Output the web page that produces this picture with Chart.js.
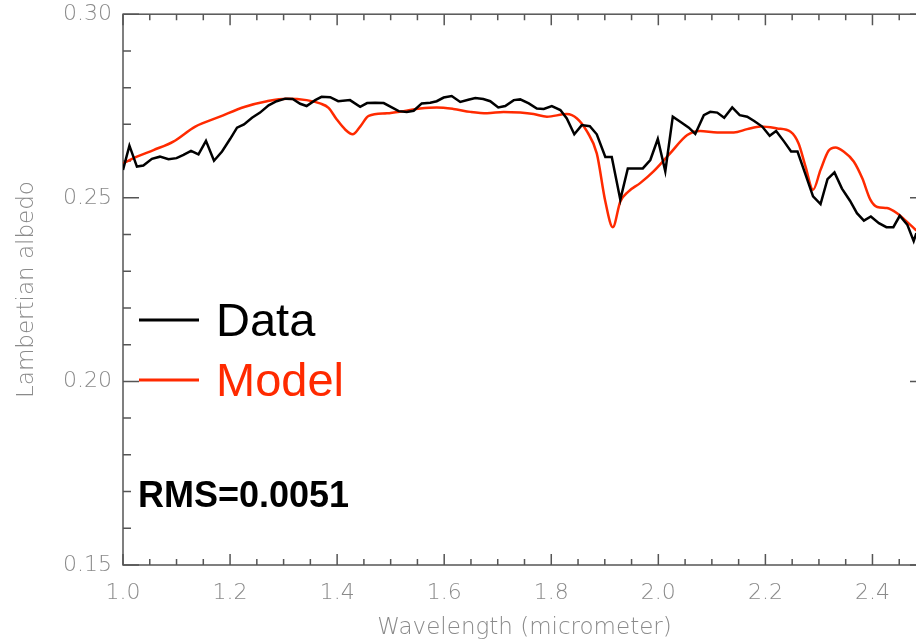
<!DOCTYPE html>
<html>
<head>
<meta charset="utf-8">
<script src="https://cdn.jsdelivr.net/npm/chart.js@4.4.1/dist/chart.umd.min.js"></script>
<style>
  html, body { margin: 0; padding: 0; background: #fff; overflow: hidden; }
  #wrap { width: 916px; height: 644px; overflow: hidden; }
  #box { width: 932px; height: 654px; margin-top: -10px; }
</style>
</head>
<body>
<div id="wrap"><div id="box"><canvas id="spectrum"></canvas></div></div>
<script>
// measured spectrum (black)
const dataWavelength = [1.000, 1.012, 1.026, 1.038, 1.054, 1.069, 1.085, 1.100, 1.113, 1.127,
  1.141, 1.155, 1.170, 1.185, 1.200, 1.213, 1.226, 1.241, 1.256, 1.272,
  1.287, 1.303, 1.317, 1.331, 1.343, 1.359, 1.371, 1.387, 1.402, 1.424,
  1.443, 1.456, 1.471, 1.487, 1.515, 1.530, 1.543, 1.558, 1.574, 1.586,
  1.599, 1.614, 1.630, 1.645, 1.658, 1.673, 1.686, 1.701, 1.714, 1.730,
  1.742, 1.758, 1.773, 1.786, 1.801, 1.817, 1.829, 1.843, 1.857, 1.872,
  1.885, 1.901, 1.913, 1.929, 1.943, 1.957, 1.971, 1.985, 1.999, 2.013,
  2.027, 2.041, 2.057, 2.069, 2.085, 2.097, 2.110, 2.123, 2.138, 2.152,
  2.166, 2.179, 2.194, 2.208, 2.220, 2.235, 2.248, 2.260, 2.275, 2.289,
  2.303, 2.316, 2.329, 2.343, 2.358, 2.371, 2.384, 2.397, 2.412, 2.426,
  2.439, 2.451, 2.465, 2.477, 2.482];
const dataAlbedo = [0.2576, 0.2642, 0.2585, 0.2588, 0.2606, 0.2612, 0.2605, 0.2608, 0.2617, 0.2628,
  0.2618, 0.2655, 0.2601, 0.2626, 0.2660, 0.2691, 0.2700, 0.2718, 0.2732, 0.2752,
  0.2763, 0.2770, 0.2769, 0.2756, 0.2750, 0.2766, 0.2775, 0.2774, 0.2763, 0.2766,
  0.2748, 0.2758, 0.2759, 0.2758, 0.2736, 0.2734, 0.2737, 0.2757, 0.2759, 0.2763,
  0.2773, 0.2777, 0.2761, 0.2767, 0.2772, 0.2769, 0.2763, 0.2746, 0.2750, 0.2766,
  0.2768, 0.2757, 0.2743, 0.2742, 0.2750, 0.2739, 0.2716, 0.2673, 0.2698, 0.2695,
  0.2673, 0.2611, 0.2611, 0.2495, 0.2580, 0.2580, 0.2580, 0.2603, 0.2660, 0.2572,
  0.2721, 0.2707, 0.2691, 0.2674, 0.2725, 0.2734, 0.2732, 0.2718, 0.2746, 0.2725,
  0.2721, 0.2709, 0.2694, 0.2669, 0.2682, 0.2653, 0.2626, 0.2626, 0.2563, 0.2504,
  0.2483, 0.2551, 0.2569, 0.2525, 0.2492, 0.2458, 0.2438, 0.2449, 0.2431, 0.2420,
  0.2420, 0.2451, 0.2427, 0.2382, 0.2404];

// model fit (red)
const modelWavelength = [1.000, 1.026, 1.057, 1.094, 1.135, 1.181, 1.228, 1.269, 1.306, 1.343,
  1.368, 1.384, 1.399, 1.415, 1.429, 1.443, 1.459, 1.493, 1.524, 1.555,
  1.586, 1.617, 1.649, 1.680, 1.711, 1.742, 1.767, 1.792, 1.829, 1.848,
  1.867, 1.885, 1.901, 1.915, 1.929, 1.944, 1.966, 1.991, 2.022, 2.054,
  2.078, 2.110, 2.141, 2.166, 2.191, 2.222, 2.247, 2.262, 2.275, 2.289,
  2.303, 2.318, 2.331, 2.346, 2.365, 2.381, 2.396, 2.409, 2.427, 2.446,
  2.462, 2.482];
const modelAlbedo = [0.2594, 0.2612, 0.2630, 0.2653, 0.2694, 0.2721, 0.2748, 0.2763, 0.2770, 0.2766,
  0.2757, 0.2745, 0.2714, 0.2686, 0.2673, 0.2694, 0.2723, 0.2730, 0.2736, 0.2743,
  0.2746, 0.2742, 0.2734, 0.2730, 0.2734, 0.2732, 0.2728, 0.2721, 0.2728, 0.2716,
  0.2680, 0.2621, 0.2490, 0.2420, 0.2490, 0.2517, 0.2540, 0.2572, 0.2621, 0.2671,
  0.2682, 0.2678, 0.2678, 0.2687, 0.2694, 0.2689, 0.2680, 0.2648, 0.2585, 0.2522,
  0.2576, 0.2628, 0.2637, 0.2626, 0.2599, 0.2553, 0.2495, 0.2475, 0.2472, 0.2458,
  0.2438, 0.2411];

const xTickValues = [1.0, 1.2, 1.4, 1.6, 1.8, 2.0, 2.2, 2.4];
const yTickValues = [0.15, 0.20, 0.25, 0.30];
const seriesLabels = ['Data', 'Model'];
const seriesColors = ['#000000', '#ff2a00'];
const rmsText = 'RMS=0.0051';

const grey = '#8a8a8a';
const axisColor = '#555555';

// the canvas is shifted up 10px by css, so fixed drawing positions add 10
const shiftY = 10;

// IDL style box with inward ticks, legend and RMS note
const idlFrame = {
  id: 'idlFrame',
  beforeDatasetsDraw(chart) {
    const { ctx, chartArea: a, scales: { x, y } } = chart;
    ctx.save();
    ctx.strokeStyle = axisColor;
    ctx.lineWidth = 1.5;
    ctx.strokeRect(a.left, a.top, a.right - a.left, a.bottom - a.top);
    ctx.beginPath();
    for (let i = 0; i <= 30; i++) {
      const px = x.getPixelForValue(1.0 + i * 0.05);
      const len = i % 4 === 0 ? 11 : 6;
      ctx.moveTo(px, a.bottom); ctx.lineTo(px, a.bottom - len);
      ctx.moveTo(px, a.top); ctx.lineTo(px, a.top + len);
    }
    for (let i = 0; i <= 15; i++) {
      const py = y.getPixelForValue(0.15 + i * 0.01);
      const len = i % 5 === 0 ? 16 : 8;
      ctx.moveTo(a.left, py); ctx.lineTo(a.left + len, py);
      ctx.moveTo(a.right, py); ctx.lineTo(a.right - len, py);
    }
    ctx.stroke();
    ctx.restore();
  },
  afterDatasetsDraw(chart) {
    const ctx = chart.ctx;
    ctx.save();
    ctx.font = '47px "Liberation Sans", Arial, sans-serif';
    ctx.textBaseline = 'alphabetic';
    chart.data.datasets.forEach((ds, i) => {
      const yy = 320 + shiftY + i * 60;
      ctx.strokeStyle = ds.borderColor;
      ctx.lineWidth = 3;
      ctx.beginPath();
      ctx.moveTo(139, yy); ctx.lineTo(199, yy);
      ctx.stroke();
      ctx.fillStyle = ds.borderColor;
      ctx.fillText(ds.label, 216, yy + 16);
    });
    ctx.font = 'bold 36px "Liberation Sans", Arial, sans-serif';
    ctx.fillStyle = '#000';
    ctx.fillText(rmsText, 138, 507 + shiftY);
    ctx.restore();
  }
};

new Chart(document.getElementById('spectrum'), {
  type: 'line',
  data: {
    datasets: [
      {
        label: seriesLabels[0],
        data: dataWavelength.map((w, i) => ({ x: w, y: dataAlbedo[i] })),
        borderColor: seriesColors[0],
        borderWidth: 2.5,
        pointRadius: 0,
        tension: 0
      },
      {
        label: seriesLabels[1],
        data: modelWavelength.map((w, i) => ({ x: w, y: modelAlbedo[i] })),
        borderColor: seriesColors[1],
        borderWidth: 2.5,
        pointRadius: 0,
        cubicInterpolationMode: 'monotone'
      }
    ]
  },
  options: {
    responsive: true,
    maintainAspectRatio: false,
    animation: false,
    layout: { padding: { top: 2, right: 6, left: 0, bottom: 0 } },
    plugins: { legend: { display: false }, tooltip: { enabled: false } },
    scales: {
      x: {
        type: 'linear',
        min: 1.0,
        max: 2.5,
        grid: { display: false, drawTicks: false },
        border: { display: false },
        afterBuildTicks: (s) => { s.ticks = xTickValues.map(v => ({ value: v })); },
        afterFit: (s) => { s.height = 79; },
        ticks: {
          color: grey,
          padding: 15,
          maxRotation: 0,
          font: { family: 'DejaVu Sans', size: 22, weight: 300 },
          callback: (v) => v.toFixed(1)
        },
        title: {
          display: true,
          text: 'Wavelength (micrometer)',
          color: grey,
          font: { family: 'DejaVu Sans', size: 23, weight: 300 },
          padding: { top: 0, bottom: 2 }
        }
      },
      y: {
        min: 0.15,
        max: 0.30,
        grid: { display: false, drawTicks: false },
        border: { display: false },
        afterBuildTicks: (s) => { s.ticks = yTickValues.map(v => ({ value: v })); },
        afterFit: (s) => { s.width = 123; },
        ticks: {
          color: grey,
          padding: 11,
          font: { family: 'DejaVu Sans', size: 22, weight: 300 },
          callback: (v) => v.toFixed(2)
        },
        title: {
          display: true,
          text: 'Lambertian albedo',
          color: grey,
          font: { family: 'DejaVu Sans', size: 23, weight: 300 },
          padding: { top: 13, bottom: 0 }
        }
      }
    }
  },
  plugins: [idlFrame]
});
</script>
</body>
</html>
